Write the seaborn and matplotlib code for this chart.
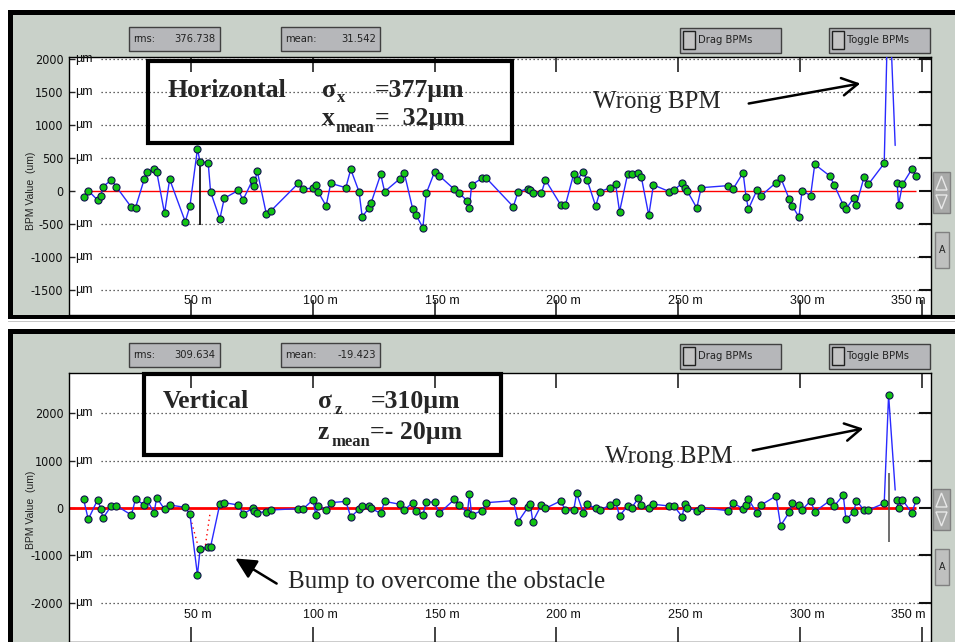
import numpy as np
import pandas as pd
import matplotlib.pyplot as plt
import seaborn as sns
from matplotlib.patches import Rectangle, Polygon, FancyArrowPatch

# BPM positions along the line (m), shared by both planes
s_pos = [6.0, 7.9, 11.7, 13.1, 13.9, 17.4, 19.4, 25.6, 27.3, 30.9,
         32.0, 34.9, 36.0, 39.2, 41.3, 47.7, 49.6, 52.7, 53.8, 57.1,
         58.1, 61.9, 63.7, 69.5, 71.4, 75.4, 76.0, 77.2, 81.0, 82.8,
         94.1, 95.9, 100.1, 101.3, 102.2, 105.5, 107.4, 113.6, 115.6, 119.0,
         120.3, 123.0, 123.9, 127.9, 129.5, 135.8, 137.6, 141.0, 142.4, 145.2,
         146.6, 150.0, 151.9, 158.1, 160.1, 163.5, 164.3, 165.2, 169.4, 171.3,
         182.3, 184.3, 188.4, 189.3, 190.3, 193.8, 195.5, 201.7, 203.7, 207.1,
         208.3, 211.0, 212.6, 216.1, 217.9, 222.1, 224.3, 225.9, 229.2, 230.9,
         233.6, 234.8, 237.9, 239.8, 246.4, 248.2, 251.6, 252.6, 253.6, 257.6,
         259.4, 270.4, 272.4, 276.6, 277.8, 278.8, 282.3, 284.0, 290.1, 292.0,
         295.5, 296.8, 299.5, 300.8, 304.3, 306.0, 312.2, 314.0, 317.7, 318.8,
         321.9, 323.1, 326.2, 328.0, 334.5, 336.3, 339.0, 339.8, 340.4, 342.0,
         345.8, 347.7]

# horizontal orbit (um)
h_vals = [-96, 5, -136, -71, 65, 167, 65, -247, -252, 182,
          283, 328, 288, -338, 177, -465, -232, 636, 439, 429,
          -15, -424, -111, 10, -136, 172, 81, 308, -353, -303,
          116, 35, 40, 91, -10, -227, 116, 50, 328, -10,
          -389, -263, -187, 252, -10, 187, 268, -268, -364, -556,
          -35, 288, 232, 25, -35, -152, -258, 91, 192, 192,
          -238, -10, 35, 15, -25, -35, 167, -207, -212, 258,
          167, 283, 167, -227, -10, 50, 101, -313, 252, 252,
          268, 217, -369, 91, -10, 15, 116, 50, 5, -258,
          50, 81, 25, 278, -86, -273, 15, -71, 126, 202,
          -121, -227, -394, 5, -71, 404, 227, 91, -212, -273,
          -111, -207, 207, 101, 419, 3200, 690, 116, -207, 101,
          328, 227]

# vertical orbit (um)
v_vals = [183, -240, 169, -14, -218, 49, 49, -148, 190, 63,
          169, -99, 218, -28, 63, 14, -127, -1416, -874, -818,
          -818, 85, 113, 63, -127, -7, -56, -99, -78, -42,
          -14, -28, 175, -148, 42, -42, 113, 140, -190, -28,
          42, 42, -7, -113, 140, 78, -42, 113, -56, -148,
          134, 120, -113, 180, 63, -99, 296, -148, -56, 113,
          155, -289, 20, 78, -289, 63, -7, 148, -42, -42,
          310, -99, 78, -7, -42, 63, 134, -169, 42, 7,
          205, 63, -7, 78, 42, 42, -183, 78, 7, -56,
          7, -56, 113, -21, 60, 183, -113, 63, 254, -373,
          -92, 113, 63, -42, 155, -78, 155, 42, 275, -240,
          -92, 155, -42, -42, 99, 2389, 380, 169, -7, 169,
          -99, 169]

no_marker = [339.0]      # BPM drawn without a marker
gap_after = 339.0        # line is broken after this BPM

# red dotted trace of the bump
bump_s = [49.3, 53.4, 55.7, 57.9]
bump_v = [-113, -888, -888, -99]

# cursor lines: position, low, high
cursor_h = (53.8, -515, 439)
cursor_v = (336.3, -720, 740)

x_ticks = [50, 100, 150, 200, 250, 300, 350]
h_yticks = [2000, 1500, 1000, 500, 0, -500, -1000, -1500]
v_yticks = [2000, 1000, 0, -1000, -2000]

df = pd.DataFrame({'s': s_pos, 'h': h_vals, 'v': v_vals})
df['seg'] = (df['s'] > gap_after).astype(int)
marks = df[~df['s'].isin(no_marker)]

sns.set_theme(style='white')
plt.rcParams['font.family'] = ['Liberation Sans', 'DejaVu Sans']
narrow = dict(family=['Liberation Sans Narrow', 'DejaVu Sans'], stretch='condensed')
serif = ['Liberation Serif', 'DejaVu Serif']

W, H = 955, 642
fig = plt.figure(figsize=(W / 100, H / 100), dpi=100)


def fx(x):
    return x / W


def fy(y):
    return 1 - y / H


def rect(x0, y0, x1, y1, z=-4, **kw):
    fig.add_artist(Rectangle((fx(x0), fy(y1)), fx(x1) - fx(x0), fy(y0) - fy(y1),
                             transform=fig.transFigure, zorder=z, **kw))


def ftext(x, y, s, **kw):
    fig.text(fx(x), fy(y), s, **kw)


gui = '#c9d1c9'
boxc = '#b6b7ba'


def chrome(y0, y1, by, rms, mean, sy):
    rect(8, y0, 960, y1, z=-6, fc='black', ec='none')
    rect(13, y0 + 5, 960, y1 - 4, z=-5, fc=gui, ec='none')
    # status boxes
    rect(129, by, 220, by + 24, fc=boxc, ec='#404040', lw=1)
    ftext(133, by + 12, 'rms:', va='center', fontsize=8, color='#222', **narrow)
    ftext(215, by + 12, rms, va='center', ha='right', fontsize=8, color='#222', **narrow)
    rect(281, by, 380, by + 24, fc=boxc, ec='#404040', lw=1)
    ftext(285, by + 12, 'mean:', va='center', fontsize=8, color='#222', **narrow)
    ftext(376, by + 12, mean, va='center', ha='right', fontsize=8, color='#222', **narrow)
    for x0, x1, lab in [(680, 781, 'Drag BPMs'), (829, 930, 'Toggle BPMs')]:
        rect(x0, by + 1, x1, by + 26, fc=boxc, ec='#404040', lw=1)
        rect(x0 + 3, by + 4, x0 + 15, by + 22, z=-3, fc='#c4c4c4', ec='#202020', lw=1)
        ftext(x0 + 18, by + 13, lab, va='center', fontsize=8, color='#222', **narrow)
    # scroll widget and "A" button on the right
    rect(933, sy, 950, sy + 41, fc='#a9aaa9', ec='#808080', lw=1)
    fig.add_artist(Polygon([(fx(936), fy(sy + 18)), (fx(947), fy(sy + 18)), (fx(941.5), fy(sy + 4))],
                           closed=True, fc='none', ec='#e8e8e8', lw=1, transform=fig.transFigure, zorder=-3))
    fig.add_artist(Polygon([(fx(936), fy(sy + 23)), (fx(947), fy(sy + 23)), (fx(941.5), fy(sy + 37))],
                           closed=True, fc='none', ec='#e8e8e8', lw=1, transform=fig.transFigure, zorder=-3))
    rect(935, sy + 60, 949, sy + 96, fc='#bfc0bf', ec='#808080', lw=1)
    ftext(942, sy + 78, 'A', ha='center', va='center', fontsize=7, color='#222')


chrome(10, 319, 27, '376.738', '31.542', 172)
chrome(329, 650, 343, '309.634', '-19.423', 489)
rect(8, 321, 955, 322, z=-6, fc='#c8c8c8', ec='none')


def panel(top, bottom, ylim, yticks, col, cursor, cursor_col, red_lw, red_start, lab_y):
    ax = fig.add_axes([fx(69), fy(bottom), fx(931) - fx(69), fy(top) - fy(bottom)])
    xmax = 353.7
    ax.set_xlim(0, xmax)
    ax.set_ylim(*ylim)
    ax.set_facecolor('white')
    for sp in ax.spines.values():
        sp.set_color('black')
        sp.set_linewidth(1)
    # dotted grid, starting to the right of the unit labels
    for t in yticks:
        if t != 0:
            ax.hlines(t, 13, xmax, colors='#333333', lw=0.9, linestyles=(0, (1, 2.2)), zorder=1)
            ax.text(0.007, t, 'µm', transform=ax.get_yaxis_transform(), va='center',
                    fontsize=9, color='#111')
    ax.hlines(0, red_start, s_pos[-1], colors='red', lw=red_lw, zorder=2)
    ax.vlines(cursor[0], cursor[1], cursor[2], colors=cursor_col, lw=1.2, zorder=2)
    sns.lineplot(data=df, x='s', y=col, units='seg', estimator=None, sort=False,
                 color='#2a2aff', lw=1.0, ax=ax, legend=False, zorder=3)
    sns.scatterplot(data=marks, x='s', y=col, color='#12c412', edgecolor='#101050',
                    linewidth=0.8, s=26, ax=ax, legend=False, zorder=4)
    ax.set_xlabel('')
    ax.set_ylabel('')
    ax.set_xticks(x_ticks)
    ax.tick_params(axis='x', direction='in', length=11, width=1.2, top=True, bottom=True,
                   labelbottom=False, color='#222')
    for t in x_ticks:
        ax.text(min(t + 3, xmax - 9.5), lab_y, f'{t} m', transform=ax.get_xaxis_transform(),
                ha='center', va='center', fontsize=9, color='#111')
    ax.set_yticks(yticks)
    ax.set_yticklabels([str(t) for t in yticks])
    ax.tick_params(axis='y', direction='in', length=4, width=1, left=True, pad=4,
                   labelsize=9, color='#222')
    for lab in ax.get_yticklabels():
        lab.set_family(narrow['family'])
        lab.set_stretch('condensed')
        lab.set_color('#111')
    ax2 = ax.twinx()
    ax2.set_ylim(*ylim)
    ax2.set_yticks(yticks)
    ax2.tick_params(axis='y', direction='in', length=9, width=1.5, labelright=False, color='#111')
    ax2.grid(False)
    for sp in ax2.spines.values():
        sp.set_visible(False)
    return ax


ax_h = panel(57, 315, (-1879, 2030), h_yticks, 'h', cursor_h, 'black', 1.0, s_pos[0], 0.055)
ax_v = panel(373, 642, (-2833, 2854), v_yticks, 'v', cursor_v, '#555555', 2.0, 0, 0.1)
sns.lineplot(x=bump_s, y=bump_v, ax=ax_v, color='red', lw=1, linestyle=(0, (1, 2.5)), legend=False)

ftext(31, 191, 'BPM Value  (um)', rotation=90, ha='center', va='center', fontsize=7.5, color='#222')
ftext(31, 510, 'BPM Value  (um)', rotation=90, ha='center', va='center', fontsize=7.5, color='#222')

# annotation boxes
rect(148, 61, 512, 143, z=5, fc='none', ec='black', lw=3)
rect(144, 374, 501, 455, z=5, fc='none', ec='black', lw=3)

big = dict(family=serif, fontsize=18.5, weight='bold', va='baseline', zorder=6)
sub = dict(family=serif, fontsize=12, weight='bold', va='baseline', zorder=6)
ftext(167, 97, 'Horizontal', **big)
ftext(322, 97, 'σ', **big)
ftext(337, 102, 'x', **sub)
ftext(375, 97, '=377µm', **big)
ftext(322, 125, 'x', **big)
ftext(335, 132, 'mean', **sub)
ftext(375, 125, '=  32µm', **big)

ftext(163, 408, 'Vertical', **big)
ftext(318, 408, 'σ', **big)
ftext(335, 414, 'z', **sub)
ftext(371, 408, '=310µm', **big)
ftext(318, 439, 'z', **big)
ftext(331, 446, 'mean', **sub)
ftext(370, 439, '=- 20µm', **big)

norm = dict(family=serif, fontsize=18, va='baseline', zorder=6)
ftext(593, 108, 'Wrong BPM', **norm)
ftext(605, 463, 'Wrong BPM', **norm)
ftext(288, 588, 'Bump to overcome the obstacle', **norm)

for (a, b) in [((746, 104), (863, 83)), ((750, 451), (866, 428))]:
    fig.add_artist(FancyArrowPatch((fx(a[0]), fy(a[1])), (fx(b[0]), fy(b[1])),
                                   transform=fig.transFigure, arrowstyle='->,head_length=0.8,head_width=0.45',
                                   mutation_scale=14, lw=1.8, color='black', zorder=6))
fig.add_artist(FancyArrowPatch((fx(279), fy(585)), (fx(233), fy(557)), transform=fig.transFigure,
                               arrowstyle='-|>,head_length=0.9,head_width=0.45', mutation_scale=14,
                               lw=1.8, color='black', zorder=6))

fig.savefig('out.png', dpi=100)
